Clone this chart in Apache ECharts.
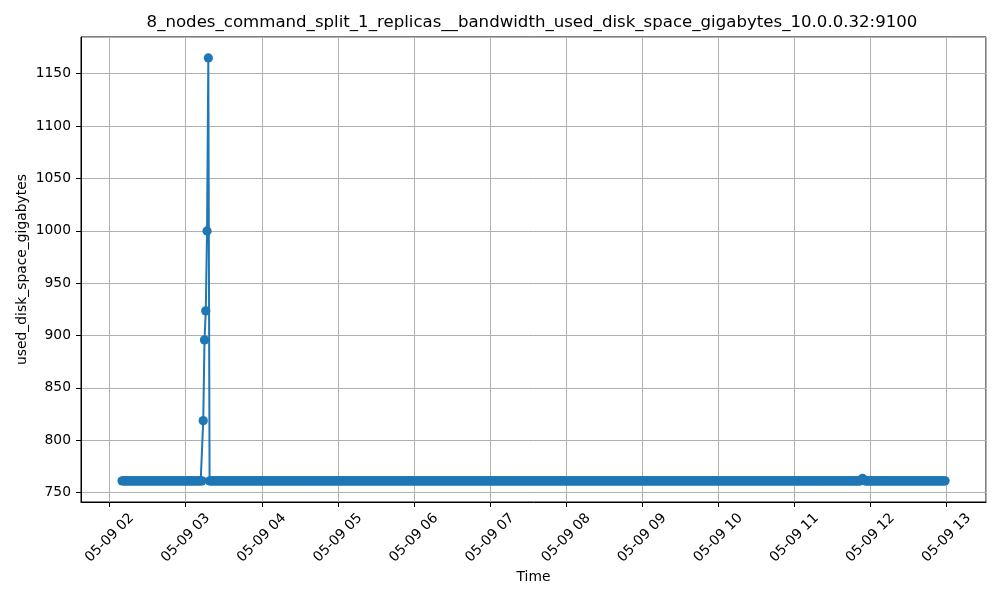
<!DOCTYPE html>
<html>
<head>
<meta charset="utf-8">
<script src="https://cdn.jsdelivr.net/npm/echarts@6/dist/echarts.min.js"></script>
<style>
html,body{margin:0;padding:0;background:#fff;}
#chart{width:1000px;height:600px;}
</style>
</head>
<body>
<div id="chart"></div>
<script>
// ---- data ----
const chartTitle = "8_nodes_command_split_1_replicas__bandwidth_used_disk_space_gigabytes_10.0.0.32:9100";
const xName = "Time";
const yName = "used_disk_space_gigabytes";
// samples: one per minute starting 05-09 02:09:48 (UTC)
const startTime = Date.UTC(2025, 4, 9, 2, 9, 48);
const stepMs = 60 * 1000;
const values = [
/*   0 */ 761.2,761.2,761.2,761.2,761.2, 761.2,761.2,761.2,761.2,761.2, 761.2,761.2,761.2,761.2,761.2, 761.2,761.2,761.2,761.2,761.2,
/*  20 */ 761.2,761.2,761.2,761.2,761.2, 761.2,761.2,761.2,761.2,761.2, 761.2,761.2,761.2,761.2,761.2, 761.2,761.2,761.2,761.2,761.2,
/*  40 */ 761.2,761.2,761.2,761.2,761.2, 761.2,761.2,761.2,761.2,761.2, 761.2,761.2,761.2,761.2,761.2, 761.2,761.2,761.2,761.2,761.2,
/*  60 */ 761.2,761.2,761.2,761.2,818.7, 895.8,923.5,999.8,1165.0,761.2, 761.2,761.2,761.2,761.2,761.2, 761.2,761.2,761.2,761.2,761.2,
/*  80 */ 761.2,761.2,761.2,761.2,761.2, 761.2,761.2,761.2,761.2,761.2, 761.2,761.2,761.2,761.2,761.2, 761.2,761.2,761.2,761.2,761.2,
/* 100 */ 761.2,761.2,761.2,761.2,761.2, 761.2,761.2,761.2,761.2,761.2, 761.2,761.2,761.2,761.2,761.2, 761.2,761.2,761.2,761.2,761.2,
/* 120 */ 761.2,761.2,761.2,761.2,761.2, 761.2,761.2,761.2,761.2,761.2, 761.2,761.2,761.2,761.2,761.2, 761.2,761.2,761.2,761.2,761.2,
/* 140 */ 761.2,761.2,761.2,761.2,761.2, 761.2,761.2,761.2,761.2,761.2, 761.2,761.2,761.2,761.2,761.2, 761.2,761.2,761.2,761.2,761.2,
/* 160 */ 761.2,761.2,761.2,761.2,761.2, 761.2,761.2,761.2,761.2,761.2, 761.2,761.2,761.2,761.2,761.2, 761.2,761.2,761.2,761.2,761.2,
/* 180 */ 761.2,761.2,761.2,761.2,761.2, 761.2,761.2,761.2,761.2,761.2, 761.2,761.2,761.2,761.2,761.2, 761.2,761.2,761.2,761.2,761.2,
/* 200 */ 761.2,761.2,761.2,761.2,761.2, 761.2,761.2,761.2,761.2,761.2, 761.2,761.2,761.2,761.2,761.2, 761.2,761.2,761.2,761.2,761.2,
/* 220 */ 761.2,761.2,761.2,761.2,761.2, 761.2,761.2,761.2,761.2,761.2, 761.2,761.2,761.2,761.2,761.2, 761.2,761.2,761.2,761.2,761.2,
/* 240 */ 761.2,761.2,761.2,761.2,761.2, 761.2,761.2,761.2,761.2,761.2, 761.2,761.2,761.2,761.2,761.2, 761.2,761.2,761.2,761.2,761.2,
/* 260 */ 761.2,761.2,761.2,761.2,761.2, 761.2,761.2,761.2,761.2,761.2, 761.2,761.2,761.2,761.2,761.2, 761.2,761.2,761.2,761.2,761.2,
/* 280 */ 761.2,761.2,761.2,761.2,761.2, 761.2,761.2,761.2,761.2,761.2, 761.2,761.2,761.2,761.2,761.2, 761.2,761.2,761.2,761.2,761.2,
/* 300 */ 761.2,761.2,761.2,761.2,761.2, 761.2,761.2,761.2,761.2,761.2, 761.2,761.2,761.2,761.2,761.2, 761.2,761.2,761.2,761.2,761.2,
/* 320 */ 761.2,761.2,761.2,761.2,761.2, 761.2,761.2,761.2,761.2,761.2, 761.2,761.2,761.2,761.2,761.2, 761.2,761.2,761.2,761.2,761.2,
/* 340 */ 761.2,761.2,761.2,761.2,761.2, 761.2,761.2,761.2,761.2,761.2, 761.2,761.2,761.2,761.2,761.2, 761.2,761.2,761.2,761.2,761.2,
/* 360 */ 761.2,761.2,761.2,761.2,761.2, 761.2,761.2,761.2,761.2,761.2, 761.2,761.2,761.2,761.2,761.2, 761.2,761.2,761.2,761.2,761.2,
/* 380 */ 761.2,761.2,761.2,761.2,761.2, 761.2,761.2,761.2,761.2,761.2, 761.2,761.2,761.2,761.2,761.2, 761.2,761.2,761.2,761.2,761.2,
/* 400 */ 761.2,761.2,761.2,761.2,761.2, 761.2,761.2,761.2,761.2,761.2, 761.2,761.2,761.2,761.2,761.2, 761.2,761.2,761.2,761.2,761.2,
/* 420 */ 761.2,761.2,761.2,761.2,761.2, 761.2,761.2,761.2,761.2,761.2, 761.2,761.2,761.2,761.2,761.2, 761.2,761.2,761.2,761.2,761.2,
/* 440 */ 761.2,761.2,761.2,761.2,761.2, 761.2,761.2,761.2,761.2,761.2, 761.2,761.2,761.2,761.2,761.2, 761.2,761.2,761.2,761.2,761.2,
/* 460 */ 761.2,761.2,761.2,761.2,761.2, 761.2,761.2,761.2,761.2,761.2, 761.2,761.2,761.2,761.2,761.2, 761.2,761.2,761.2,761.2,761.2,
/* 480 */ 761.2,761.2,761.2,761.2,761.2, 761.2,761.2,761.2,761.2,761.2, 761.2,761.2,761.2,761.2,761.2, 761.2,761.2,761.2,761.2,761.2,
/* 500 */ 761.2,761.2,761.2,761.2,761.2, 761.2,761.2,761.2,761.2,761.2, 761.2,761.2,761.2,761.2,761.2, 761.2,761.2,761.2,761.2,761.2,
/* 520 */ 761.2,761.2,761.2,761.2,761.2, 761.2,761.2,761.2,761.2,761.2, 761.2,761.2,761.2,761.2,761.2, 761.2,761.2,761.2,761.2,761.2,
/* 540 */ 761.2,761.2,761.2,761.2,761.2, 761.2,761.2,761.2,761.2,761.2, 761.2,761.2,761.2,761.2,761.2, 761.2,761.2,761.2,761.2,761.2,
/* 560 */ 761.2,761.2,761.2,761.2,761.2, 761.2,761.2,761.2,761.2,761.2, 761.2,761.2,761.2,761.2,761.2, 761.2,761.2,761.2,761.2,761.2,
/* 580 */ 761.2,761.2,761.2,762.4,763.5, 762.4,761.2,761.2,761.2,761.2, 761.2,761.2,761.2,761.2,761.2, 761.2,761.2,761.2,761.2,761.2,
/* 600 */ 761.2,761.2,761.2,761.2,761.2, 761.2,761.2,761.2,761.2,761.2, 761.2,761.2,761.2,761.2,761.2, 761.2,761.2,761.2,761.2,761.2,
/* 620 */ 761.2,761.2,761.2,761.2,761.2, 761.2,761.2,761.2,761.2,761.2, 761.2,761.2,761.2,761.2,761.2, 761.2,761.2,761.2,761.2,761.2,
/* 640 */ 761.2,761.2,761.2,761.2,761.2, 761.2,761.2,761.2,761.2,761.2
];
// axis ranges
const xMin = Date.UTC(2025, 4, 9, 1, 37, 24);
const xMax = Date.UTC(2025, 4, 9, 13, 31, 6);
const yMin = 741.0;
const yMax = 1185.0;
const xStepMs = 3600 * 1000;
const yStep = 50;

// ---- chart ----
const seriesData = values.map((v, i) => [startTime + i * stepMs, v]);
const pad = n => (n < 10 ? '0' : '') + n;
const FONT = 'DejaVu Sans';
const chart = echarts.init(document.getElementById('chart'), null, {renderer: 'canvas'});
chart.setOption({
  useUTC: true,
  animation: false,
  backgroundColor: '#ffffff',
  title: {
    text: chartTitle,
    left: 527,
    top: 9,
    textAlign: 'center',
    textStyle: {fontFamily: FONT, fontSize: 16.6, fontWeight: 'normal', color: '#000'}
  },
  grid: {
    left: 81, right: 14, top: 37, bottom: 98,
    show: true, borderColor: '#000', borderWidth: 1, backgroundColor: 'transparent',
    containLabel: false
  },
  xAxis: {
    type: 'time',
    min: xMin, max: xMax,
    minInterval: xStepMs, maxInterval: xStepMs,
    splitNumber: 12,
    name: xName,
    nameLocation: 'middle',
    nameGap: 68,
    nameMoveOverlap: false,
    nameTextStyle: {fontFamily: FONT, fontSize: 13.89, color: '#000'},
    axisLine: {show: true, lineStyle: {color: '#000', width: 1}},
    axisTick: {show: true, length: 5, inside: false, lineStyle: {color: '#000', width: 1}},
    minorTick: {show: false},
    splitLine: {show: true, lineStyle: {color: '#b0b0b0', width: 1}},
    axisLabel: {
      rotate: 45,
      align: 'center',
      verticalAlign: 'middle',
      margin: 36,
      fontFamily: FONT, fontSize: 13.89, color: '#000',
      showMinLabel: false, showMaxLabel: false,
      hideOverlap: false,
      formatter: function (v) {
        const d = new Date(v);
        return pad(d.getUTCMonth() + 1) + '-' + pad(d.getUTCDate()) + ' ' + pad(d.getUTCHours());
      }
    }
  },
  yAxis: {
    type: 'value',
    min: yMin, max: yMax,
    minInterval: yStep, maxInterval: yStep,
    splitNumber: 9,
    scale: true,
    name: yName,
    nameLocation: 'middle',
    nameGap: 52,
    nameMoveOverlap: false,
    nameRotate: 90,
    nameTextStyle: {fontFamily: FONT, fontSize: 13.89, color: '#000'},
    axisLine: {show: true, lineStyle: {color: '#000', width: 1}},
    axisTick: {show: true, length: 5, inside: false, lineStyle: {color: '#000', width: 1}},
    splitLine: {show: true, lineStyle: {color: '#b0b0b0', width: 1}},
    axisLabel: {
      margin: 10,
      fontFamily: FONT, fontSize: 13.89, color: '#000',
      showMinLabel: false, showMaxLabel: false,
      formatter: function (v) { return String(v); }
    }
  },
  series: [{
    type: 'line',
    data: seriesData,
    showAllSymbol: true,
    symbol: 'circle',
    symbolSize: 9.3,
    itemStyle: {color: '#1f77b4', borderWidth: 0},
    lineStyle: {color: '#1f77b4', width: 2},
    emphasis: {disabled: true},
    clip: true
  }]
});
</script>
</body>
</html>
